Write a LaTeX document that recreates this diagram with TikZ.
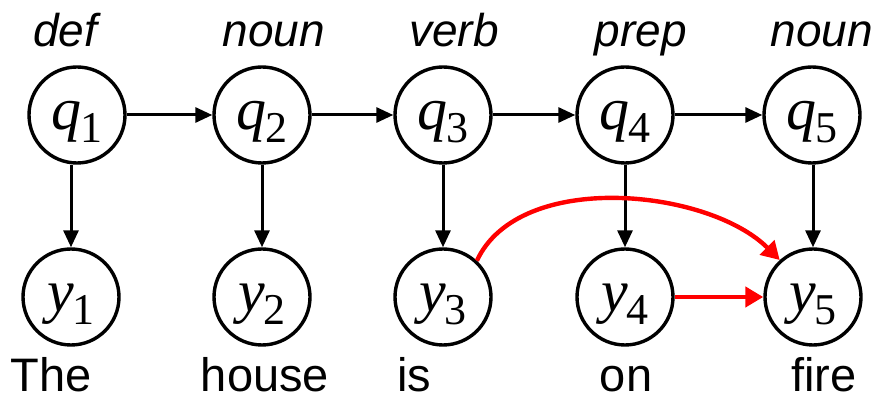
\documentclass[tikz,border=0pt]{standalone}
\usepackage{fontspec}
\setmainfont{Liberation Sans}
\newfontfamily\timesfont{Liberation Serif}
\usetikzlibrary{arrows.meta}

\newcommand{\hvar}[2]{{\timesfont\fontsize{30}{30}\selectfont\itshape #1}\kern-0.5pt{\timesfont\fontsize{22}{22}\selectfont\raisebox{-6.5pt}{#2}}}

\begin{document}
\begin{tikzpicture}[x=0.5pt,y=0.5pt,
  state/.style={circle,draw,line width=1.7pt,minimum size=48pt,inner sep=0pt,text height=20pt,text depth=5pt},
  arr/.style={line width=1.5pt,-{Triangle[length=8.5pt,width=7.5pt]}},
  redarr/.style={red,line width=2.2pt,-{Triangle[length=9pt,width=10pt]}},
  tag/.style={anchor=base,inner sep=0pt,font=\fontsize{23}{23}\selectfont\itshape},
  word/.style={anchor=base,inner sep=0pt,font=\fontsize{23.5}{23.5}\selectfont}]
  \useasboundingbox (0,0) rectangle (878,396);
  \pgfmathsetmacro{\qrow}{281}
  \pgfmathsetmacro{\yrow}{99}

  % hidden states and observations
  \foreach \i/\x/\xy in {1/77/71,2/262/262,3/443/443,4/625/625,5/812/813}{
    \node[state] (q\i) at (\x,\qrow) {\hvar{q}{\i}};
    \node[state] (y\i) at (\xy,\yrow) {\hvar{y}{\i}};
    \draw[arr] (y\i.north |- q\i.south) -- (y\i.north);
  }
  \foreach \i/\j in {1/2,2/3,3/4,4/5}{
    \draw[arr] (q\i) -- (q\j);
  }

  % tags and words
  \foreach \i/\t/\x in {1/def/65,2/noun/274,3/verb/454,4/prep/641,5/noun/822}{
    \node[tag] (tag\i) at (\x,349) {\t};
  }
  \foreach \i/\w/\x in {1/The/51,2/house/265,3/is/414,4/on/626,5/fire/824}{
    \node[word] (word\i) at (\x,4) {\w};
  }

  % extra dependencies
  \draw[redarr] (y3.47) to[out=65,in=135,looseness=0.85] (y5.132);
  \draw[redarr] (y4) -- (y5);
\end{tikzpicture}
\end{document}
